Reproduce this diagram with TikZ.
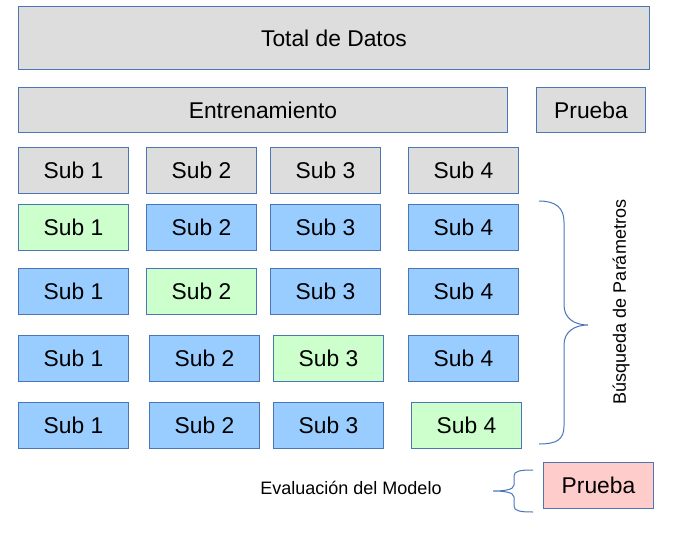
\documentclass[tikz,border=0pt]{standalone}
\usepackage{fontspec}
\setmainfont{Liberation Sans}
\usepackage{tikz}
\usepackage{xcolor}
\definecolor{box-line}{HTML}{4A76B8}
\definecolor{box-gray}{HTML}{DDDDDD}
\definecolor{box-blue}{HTML}{99CCFF}
\definecolor{box-green}{HTML}{CCFFCC}
\definecolor{box-pink}{HTML}{FFCCCC}
\tikzset{
    data-box/.style = {draw=box-line, line width=1pt, rectangle, anchor=north west, inner sep=0pt, font=\fontsize{22.8}{27}\selectfont},
    sub-box/.style = {data-box, minimum width=110pt, minimum height=46pt},
    gray-sub/.style = {sub-box, fill=box-gray},
    train-sub/.style = {sub-box, fill=box-blue},
    valid-sub/.style = {sub-box, fill=box-green},
    side-label/.style = {font=\fontsize{18}{22}\selectfont, inner sep=0pt},
    brace-line/.style = {draw=box-line, line width=1pt},
}

\begin{document}
\begin{tikzpicture}[x=1pt, y=-1pt]
\useasboundingbox (0,0) rectangle (690,538);
% data split
\node [data-box, fill=box-gray, minimum width=631pt, minimum height=63pt] (total) at (18,6) {Total de Datos};
\node [data-box, fill=box-gray, minimum width=489pt, minimum height=45pt] (train) at (18,87) {Entrenamiento};
\node [data-box, fill=box-gray, minimum width=109pt, minimum height=45pt] (test) at (536,87) {Prueba};

% folds
\node [gray-sub] (r0-s1) at (18,147) {Sub 1};
\node [gray-sub] (r0-s2) at (146,147) {Sub 2};
\node [gray-sub] (r0-s3) at (270,147) {Sub 3};
\node [gray-sub] (r0-s4) at (408,147) {Sub 4};

\node [valid-sub] (r1-s1) at (18,204) {Sub 1};
\node [train-sub] (r1-s2) at (146,204) {Sub 2};
\node [train-sub] (r1-s3) at (270,204) {Sub 3};
\node [train-sub] (r1-s4) at (408,204) {Sub 4};

\node [train-sub] (r2-s1) at (18,268) {Sub 1};
\node [valid-sub] (r2-s2) at (146,268) {Sub 2};
\node [train-sub] (r2-s3) at (270,268) {Sub 3};
\node [train-sub] (r2-s4) at (408,268) {Sub 4};

\node [train-sub] (r3-s1) at (18,335) {Sub 1};
\node [train-sub] (r3-s2) at (149,335) {Sub 2};
\node [valid-sub] (r3-s3) at (273,335) {Sub 3};
\node [train-sub] (r3-s4) at (408,335) {Sub 4};

\node [train-sub] (r4-s1) at (18,402) {Sub 1};
\node [train-sub] (r4-s2) at (149,402) {Sub 2};
\node [train-sub] (r4-s3) at (273,402) {Sub 3};
\node [valid-sub] (r4-s4) at (411,402) {Sub 4};

% parameter search
\draw [brace-line] (539,201) .. controls (556,201) and (564,208) .. (564,222)
    -- (564,305) .. controls (564,318) and (574,325) .. (588,325)
    .. controls (574,325) and (564,332) .. (564,345)
    -- (564,426) .. controls (564,440) and (556,444) .. (539,444);
\node [side-label, rotate=90] (search) at (621,302) {Búsqueda de Parámetros};

% model evaluation
\node [data-box, fill=box-pink, minimum width=110pt, minimum height=46pt] (final-test) at (543,462) {Prueba};
\draw [brace-line] (533,470) .. controls (520,470) and (514,471) .. (514,476)
    -- (514,485) .. controls (514,490) and (503,491) .. (493,491)
    .. controls (503,491) and (514,492) .. (514,497)
    -- (514,506) .. controls (514,511) and (520,512) .. (533,512);
\node [side-label] (evaluation) at (351,488) {Evaluación del Modelo};
\end{tikzpicture}
\end{document}
